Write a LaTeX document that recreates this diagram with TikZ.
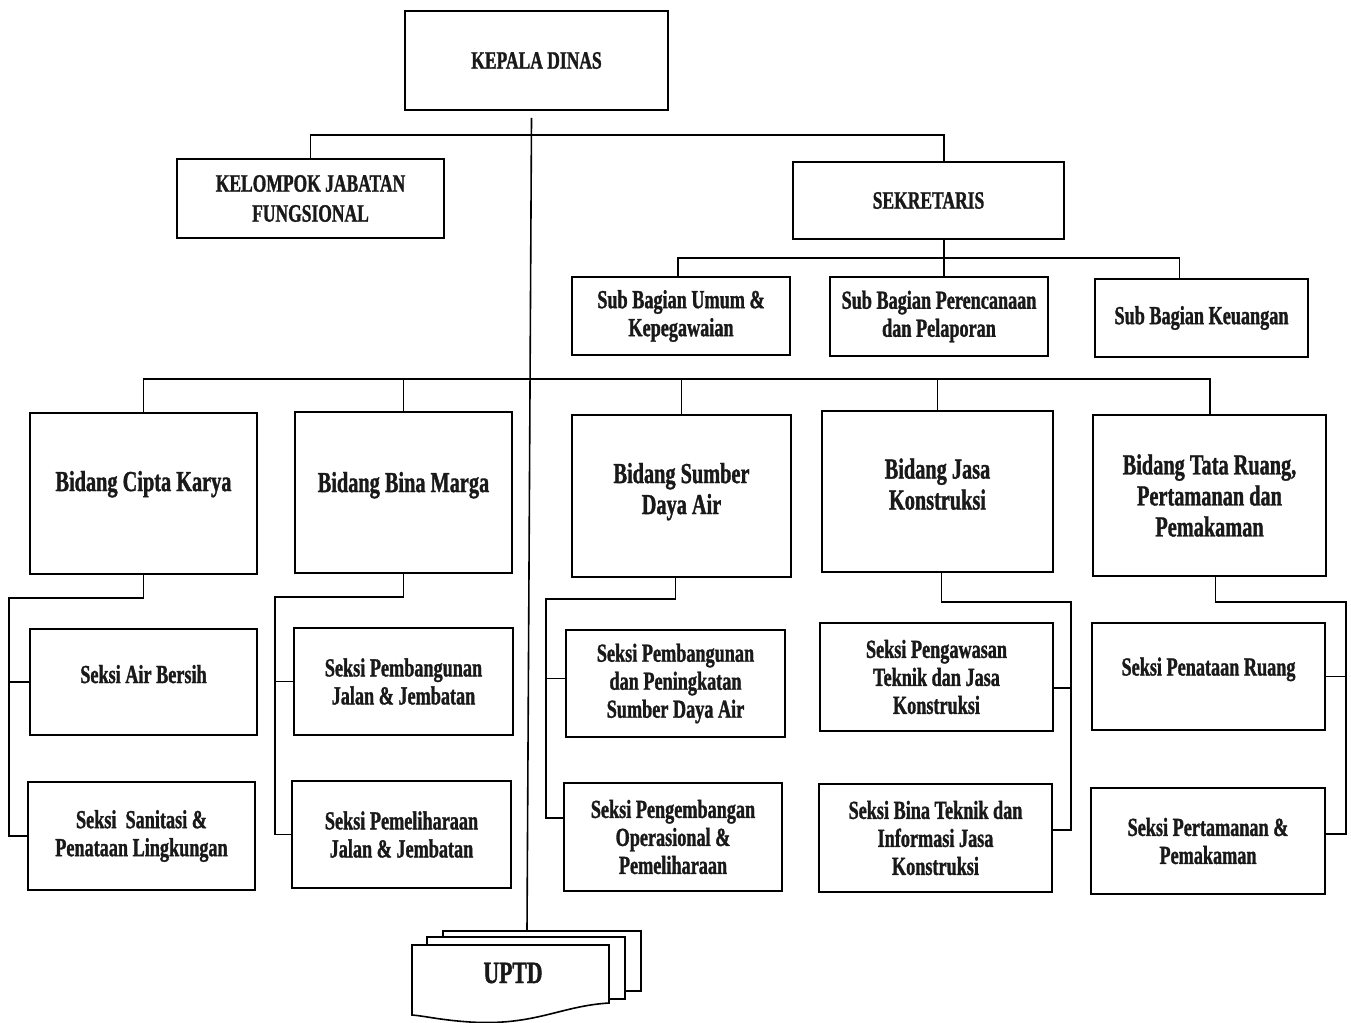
\documentclass[tikz,border=0pt]{standalone}
\usepackage{fontspec}
\setmainfont{Liberation Serif}[FakeStretch=0.7,BoldFeatures={FakeBold=1.2}]
\usetikzlibrary{calc}
\begin{document}
\begin{tikzpicture}[x=1pt,y=-1pt,
  box/.style={draw=black,line width=1.7pt,fill=white,inner sep=0pt,align=center,font=\bfseries\fontsize{26}{28}\selectfont,text=black!90},
  kdbox/.style={box,font=\bfseries\fontsize{25}{30}\selectfont},
  bidbox/.style={box,font=\bfseries\fontsize{29}{31}\selectfont},
  subbox/.style={box,font=\bfseries\fontsize{26}{28}\selectfont},
  conn/.style={line width=1.6pt,black}]
\useasboundingbox (0,0) rectangle (1351,1022);
% top level
\node[kdbox,minimum width=263,minimum height=99] (kd) at (536.5,60.5) {KEPALA DINAS};
\node[kdbox,minimum width=267,minimum height=79] (kjf) at (310.5,198.5) {KELOMPOK JABATAN\\FUNGSIONAL};
\node[kdbox,minimum width=271,minimum height=77] (sek) at (928.5,200.5) {SEKRETARIS};
% sub bagian
\node[subbox,minimum width=218,minimum height=78] (sb1) at (681,316) {Sub Bagian Umum \&\\Kepegawaian};
\node[subbox,minimum width=218,minimum height=79] (sb2) at (939,316.5) {Sub Bagian Perencanaan\\dan Pelaporan};
\node[subbox,minimum width=213,minimum height=78] (sb3) at (1201.5,318) {Sub Bagian Keuangan};
% bidang
\node[bidbox,minimum width=227,minimum height=161,text depth=25pt] (b1) at (143.5,493.5) {Bidang Cipta Karya};
\node[bidbox,minimum width=217,minimum height=161,text depth=21pt] (b2) at (403.5,492.5) {Bidang Bina Marga};
\node[bidbox,minimum width=219,minimum height=162] (b3) at (681.5,496) {Bidang Sumber\\Daya Air\\[-16pt]};
\node[bidbox,minimum width=231,minimum height=161] (b4) at (937.5,491.5) {Bidang Jasa\\Konstruksi\\[-16pt]};
\node[bidbox,minimum width=233,minimum height=161] (b5) at (1209.5,495.5) {Bidang Tata Ruang,\\Pertamanan dan\\Pemakaman};
% seksi
\node[box,minimum width=227,minimum height=106,text depth=16pt] (s11) at (143.5,682) {Seksi Air Bersih};
\node[box,minimum width=227,minimum height=108] (s12) at (141.5,836) {Seksi\ \ Sanitasi \&\\Penataan Lingkungan};
\node[box,minimum width=219,minimum height=107] (s21) at (403.5,681.5) {Seksi Pembangunan\\Jalan \& Jembatan};
\node[box,minimum width=219,minimum height=107] (s22) at (401.5,834.5) {Seksi Pemeliharaan\\Jalan \& Jembatan};
\node[box,minimum width=219,minimum height=107] (s31) at (675.5,683.5) {Seksi Pembangunan\\dan Peningkatan\\Sumber Daya Air};
\node[box,minimum width=218,minimum height=108] (s32) at (673,837) {Seksi Pengembangan\\Operasional \&\\Pemeliharaan};
\node[box,minimum width=233,minimum height=108] (s41) at (936.5,677) {Seksi Pengawasan\\Teknik dan Jasa\\Konstruksi};
\node[box,minimum width=233,minimum height=108] (s42) at (935.5,838) {Seksi Bina Teknik dan\\Informasi Jasa\\Konstruksi};
\node[box,minimum width=233,minimum height=107,text depth=20pt] (s51) at (1208.5,676.5) {Seksi Penataan Ruang};
\node[box,minimum width=234,minimum height=106] (s52) at (1208,841) {Seksi Pertamanan \&\\Pemakaman};
% UPTD (stacked documents)
\node[draw=black,line width=1.6pt,fill=white,minimum width=198,minimum height=60,inner sep=0pt] (up3) at (542,961) {};
\node[draw=black,line width=1.6pt,fill=white,minimum width=198,minimum height=62,inner sep=0pt] (up2) at (526,968) {};
\draw[line width=1.6pt,fill=white] (412,945) -- (609,945) -- (609,1003)
  .. controls (560,1006) and (535,1026) .. (470,1022)
  .. controls (440,1020) and (425,1016) .. (412,1015) -- cycle;
\node[font=\bfseries\fontsize{31}{34}\selectfont,text=black!90,inner sep=0pt] (up1) at (513,973) {UPTD};
% connector coordinates
\coordinate (tj) at (944,135);
\coordinate (sj) at (944,258);
\coordinate (bus) at (1210,379);
\coordinate (r1) at (9,598);
\coordinate (r2) at (275,597);
\coordinate (r3) at (546,599);
\coordinate (r4) at (1071,602);
\coordinate (r5) at (1346,602);
% connectors
\draw[conn] ([xshift=-5pt,yshift=-7pt]kd.south) -- ([xshift=-15pt]up3.north);
\draw[conn] (kjf.north) |- (tj) -- (sek.north -| tj);
\draw[conn] (sek.south -| sj) -- (sb2.north -| sj);
\draw[conn] ([xshift=-3pt]sb1.north) |- (sj) -| ([xshift=-22pt]sb3.north);
\draw[conn] (b1.north) |- (bus) -- (b5.north -| bus);
\draw[conn] (b2.north) -- (b2.north |- bus);
\draw[conn] (b3.north) -- (b3.north |- bus);
\draw[conn] (b4.north) -- (b4.north |- bus);
\draw[conn] (b1.south) |- (r1) |- (s12.west);
\draw[conn] (s11.west) -- (s11.west -| r1);
\draw[conn] (b2.south) |- (r2) |- (s22.west);
\draw[conn] (s21.west) -- (s21.west -| r2);
\draw[conn] ([xshift=-6pt]b3.south) |- (r3) |- ([yshift=19pt]s32.west);
\draw[conn] ([yshift=5pt]s31.west) -- ([yshift=5pt]s31.west -| r3);
\draw[conn] ([xshift=4pt]b4.south) |- (r4) |- ([yshift=8pt]s42.east);
\draw[conn] ([yshift=-11pt]s41.east) -- ([yshift=-11pt]s41.east -| r4);
\draw[conn] ([xshift=6pt]b5.south) |- (r5) |- ([yshift=7pt]s52.east);
\draw[conn] (s51.east) -- (s51.east -| r5);
\end{tikzpicture}
\end{document}
